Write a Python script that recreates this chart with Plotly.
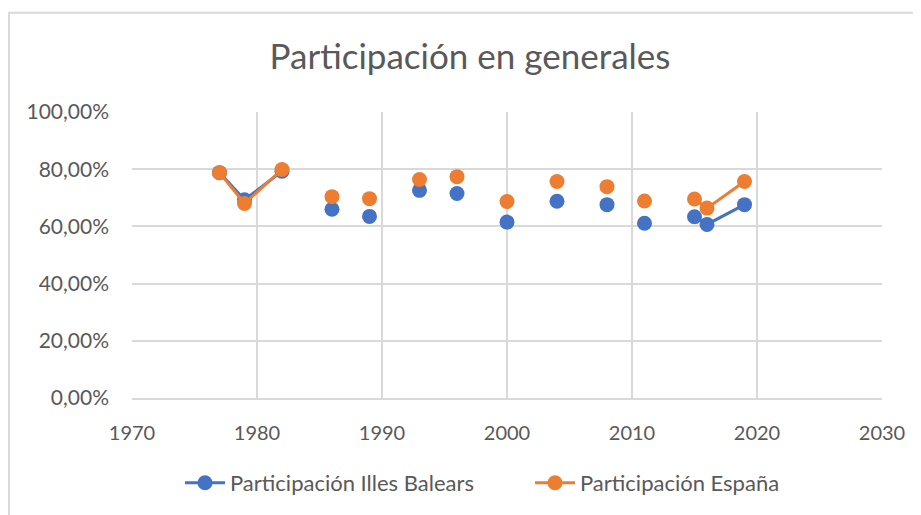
import plotly.graph_objects as go

years = [1977, 1979, 1982, 1986, 1989, 1993, 1996, 2000, 2004, 2008, 2011, 2015, 2016, 2019]
baleares = [78.8, 69.3, 79.3, 66.0, 63.5, 72.6, 71.5, 61.5, 68.8, 67.6, 61.1, 63.4, 60.7, 67.6]
espana = [78.8, 68.0, 79.9, 70.4, 69.7, 76.4, 77.4, 68.7, 75.7, 73.9, 68.9, 69.6, 66.4, 75.7]
# years after which Excel draws a connecting segment to the next point
connected_after = {1977, 1979, 2015, 2016}
series_names = ["Participación Illes Balears", "Participación España"]
colors = ["#4472C4", "#ED7D31"]
y_ticks = [0, 20, 40, 60, 80, 100]
y_tick_labels = ["0,00%", "20,00%", "40,00%", "60,00%", "80,00%", "100,00%"]
x_ticks = [1970, 1980, 1990, 2000, 2010, 2020, 2030]


def with_gaps(xs, ys):
    gx, gy = [], []
    for i, (x, y) in enumerate(zip(xs, ys)):
        gx.append(x)
        gy.append(y)
        if i < len(xs) - 1 and x not in connected_after:
            gx.append(None)
            gy.append(None)
    return gx, gy


fig = go.Figure()
for name, vals, col in zip(series_names, [baleares, espana], colors):
    gx, gy = with_gaps(years, vals)
    fig.add_trace(go.Scatter(
        x=gx, y=gy, mode="lines+markers", name=name,
        line=dict(color=col, width=3),
        marker=dict(color=col, size=15),
        connectgaps=False,
    ))

W, H = 921, 515
L, R, T, B = 124, 874, 103.5, 390.5  # plot area edges in figure px
font_family = "Lato, 'Open Sans', sans-serif"
fig.update_layout(
    width=W, height=H,
    margin=dict(l=L, r=W - R, t=T, b=H - B, autoexpand=False),
    paper_bgcolor="white", plot_bgcolor="white",
    title=dict(text="Participación en generales", x=462 / W, xanchor="center",
               y=1 - 49 / H, yanchor="middle",
               font=dict(family=font_family, size=35, color="#595959")),
    font=dict(family=font_family, size=20, color="#595959"),
    showlegend=True,
    legend=dict(orientation="h", xref="container", yref="container",
                x=172 / W, xanchor="left", y=1 - 475 / H, yanchor="middle",
                font=dict(size=22, color="#595959"), itemwidth=40,
                entrywidth=295, entrywidthmode="pixels",
                traceorder="normal"),
    xaxis=dict(range=[1970, 2030], tickvals=x_ticks, ticktext=[str(t) for t in x_ticks],
               showgrid=True, gridcolor="#D9D9D9", gridwidth=2,
               zeroline=False, showline=True, linecolor="#D9D9D9", linewidth=2,
               ticks="", tickfont=dict(size=20), ticklabelstandoff=16),
    yaxis=dict(range=[0, 100], tickvals=y_ticks, ticktext=y_tick_labels,
               showgrid=True, gridcolor="#D9D9D9", gridwidth=2,
               zeroline=False, showline=False, ticks="", tickfont=dict(size=21),
               ticklabelstandoff=22),
)
fig.add_shape(type="rect", xref="paper", yref="paper",
              x0=(1 - L) / (R - L), x1=(930 - L) / (R - L),
              y0=(B - 530) / (B - T), y1=1 + (T - 4) / (B - T),
              line=dict(color="#D9D9D9", width=2), layer="below")
fig.write_html("out.html")
